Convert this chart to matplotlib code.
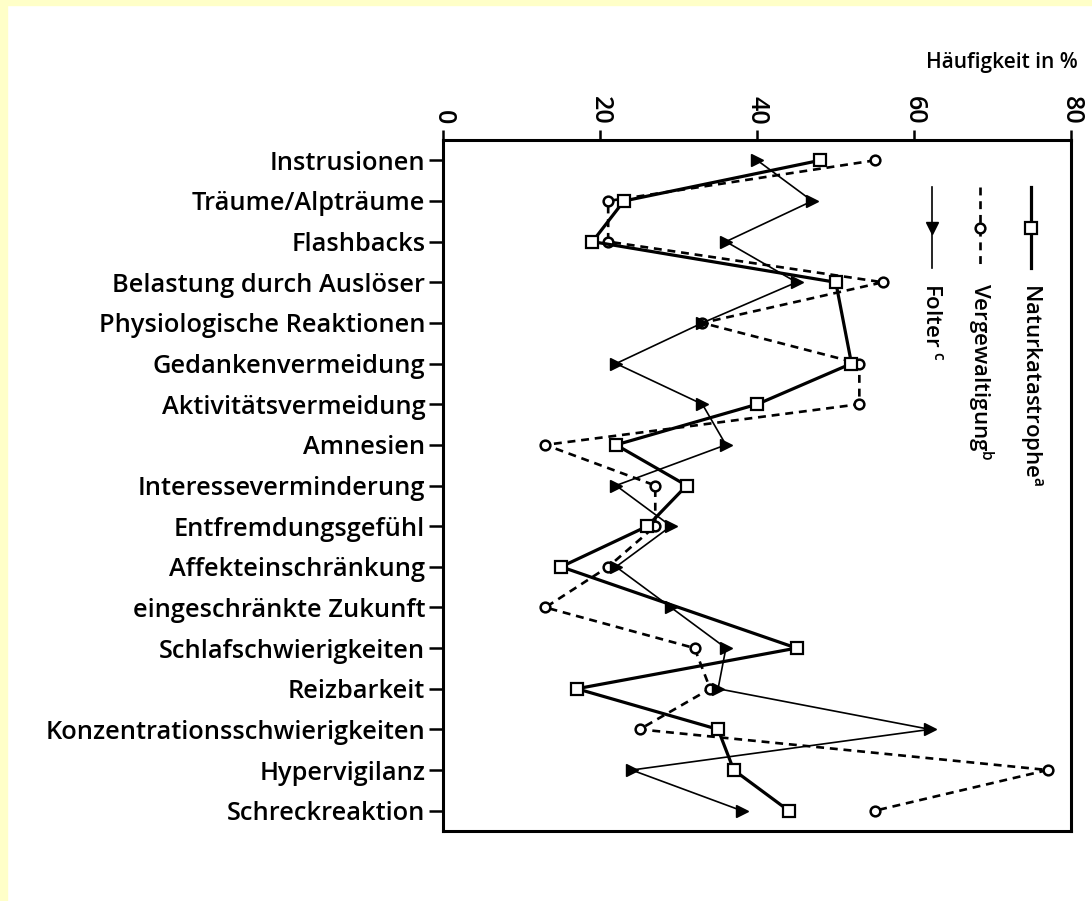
import matplotlib
matplotlib.use("Agg")
import matplotlib.pyplot as plt
from matplotlib.patches import Rectangle
import numpy as np

plt.rcParams['font.family'] = ['Open Sans', 'DejaVu Sans']

categories = ["Instrusionen", "Träume/Alpträume", "Flashbacks",
              "Belastung durch Auslöser", "Physiologische Reaktionen",
              "Gedankenvermeidung", "Aktivitätsvermeidung", "Amnesien",
              "Interesseverminderung", "Entfremdungsgefühl",
              "Affekteinschränkung", "eingeschränkte Zukunft",
              "Schlafschwierigkeiten", "Reizbarkeit",
              "Konzentrationsschwierigkeiten", "Hypervigilanz",
              "Schreckreaktion"]

natur = [48, 23, 19, 50, np.nan, 52, 40, 22, 31, 26, 15, np.nan, 45, 17, 35, 37, 44]
vergew = [55, 21, 21, 56, 33, 53, 53, 13, 27, 27, 21, 13, 32, 34, 25, 77, 55]
folter = [40, 47, 36, 45, 33, 22, 33, 36, 22, 29, 22, 29, 36, 35, 62, 24, 38]

xticks = [0, 20, 40, 60, 80]
legend_labels = ["Naturkatastrophe$^\\mathregular{a}$",
                 "Vergewaltigung$^\\mathregular{b}$",
                 "Folter $^\\mathregular{c}$"]

fig = plt.figure(figsize=(10.92, 9.01), dpi=100)
fig.patches.append(Rectangle((0, 0), 7 / 1092, 1, transform=fig.transFigure,
                             color="#ffffc8", zorder=0))
fig.patches.append(Rectangle((0, 1 - 5 / 901), 1, 5 / 901, transform=fig.transFigure,
                             color="#ffffc8", zorder=0))
ax = fig.add_axes([0.406, 0.0777, 0.575, 0.7669])

y = np.arange(len(categories))

def draw(vals, **kw):
    v = np.array(vals, dtype=float)
    ok = ~np.isnan(v)
    ax.plot(v[ok], y[ok], **kw)

styles = [
    dict(color="black", lw=2.3, ls="-", marker="s", ms=8.5, mfc="white", mew=1.6, zorder=4),
    dict(color="black", lw=1.9, ls=(0, (3, 2.2)), marker="o", ms=7, mfc="white", mew=1.8, zorder=3),
    dict(color="black", lw=1.2, ls="-", marker=">", ms=8.5, mfc="black", mew=1, zorder=5),
]
for vals, st in zip([natur, vergew, folter], styles):
    draw(vals, **st)

ax.set_xlim(0, 80)
ax.set_ylim(len(categories) - 0.5, -0.5)
ax.set_yticks(y)
ax.set_yticklabels(categories, fontsize=18.3, fontweight="semibold")
ax.xaxis.tick_top()
ax.set_xticks(xticks)
ax.set_xticklabels([str(t) for t in xticks], rotation=-90, fontsize=18,
                   fontweight="semibold")
ax.tick_params(axis="y", direction="out", length=10, width=1.8, pad=3)
ax.tick_params(axis="x", direction="out", length=7, width=1.8, pad=4)
for s in ax.spines.values():
    s.set_linewidth(2.2)

fig.text(0.987, 0.931, "Häufigkeit in %", ha="right", va="center",
         fontsize=15, fontweight="semibold")

# legend drawn as rotated entries (markers rotated with the text)
leg_x = [0.936, 0.855, 0.778]
leg_markers = ["s", "o", "v"]
for lx, lab, st, mk in zip(leg_x, legend_labels, styles, leg_markers):
    ax.plot([lx, lx], [0.932, 0.815], transform=ax.transAxes, color="black",
            lw=st["lw"], ls=st["ls"], clip_on=False)
    ax.plot([lx], [0.873], transform=ax.transAxes, marker=mk,
            ms=st["ms"], mfc=st["mfc"], mec="black", mew=st["mew"], ls="none")
    ax.text(lx, 0.793, lab, transform=ax.transAxes, rotation=-90,
            ha="center", va="top", fontsize=16, fontweight="semibold")

fig.savefig("out.png", dpi=100, facecolor="white")
